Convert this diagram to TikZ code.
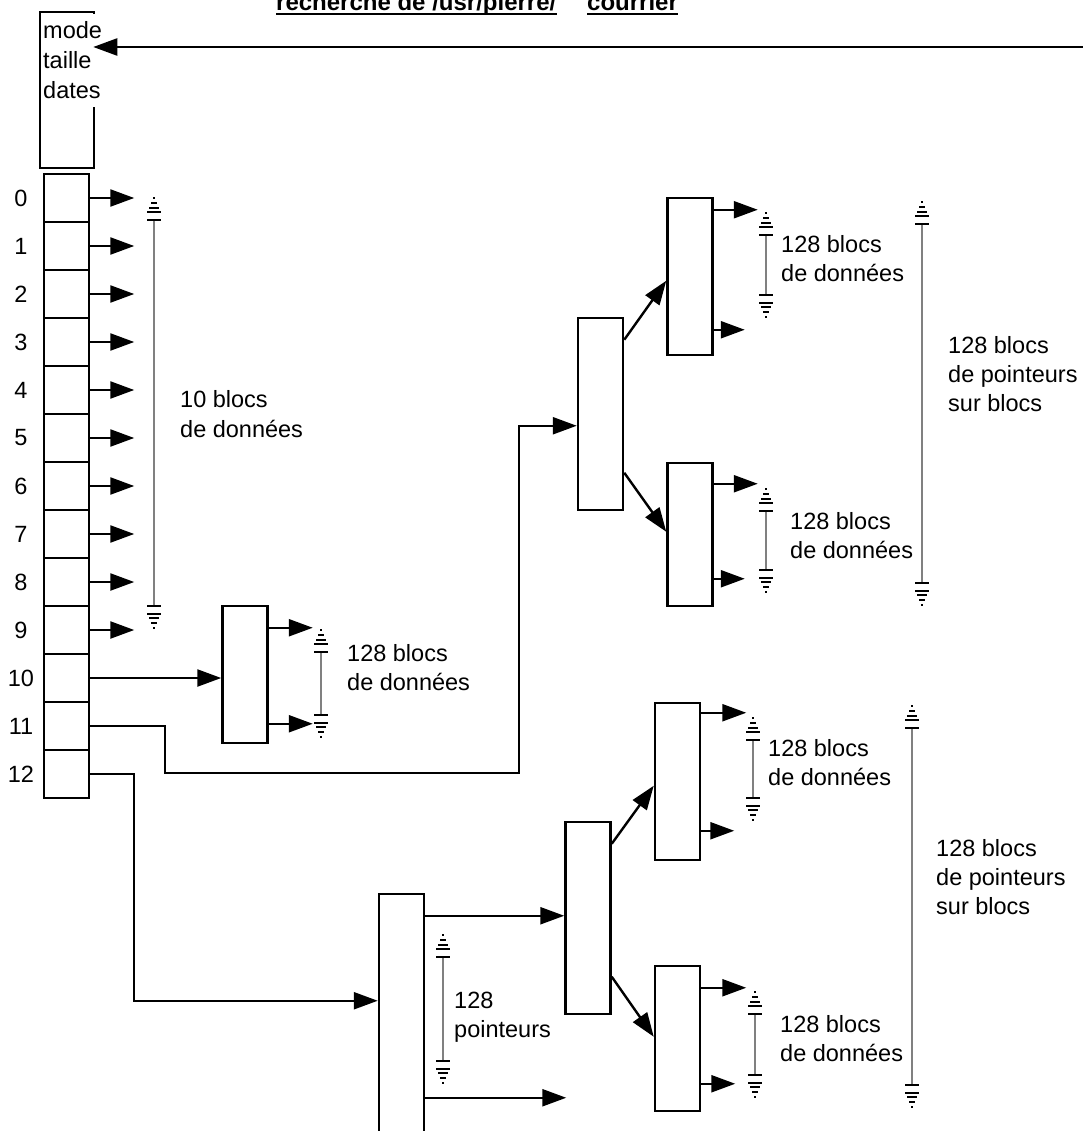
\documentclass[tikz,border=0pt]{standalone}
\usepackage{fontspec}
\setmainfont{Liberation Sans}
\usetikzlibrary{arrows.meta,calc}

\newcommand{\jauge}[3]{%
  \draw[mesure] (#1,#2+22) -- (#1,#3-22);
  \foreach \d/\w/\e in {0/7/1.2,8/7/2.2,12/5/2,17/3/2,22/1/1.5} {
    \draw[line width=\e pt] (#1-\w,#2+22-\d) -- (#1+\w,#2+22-\d);
    \draw[line width=\e pt] (#1-\w,#3-22+\d) -- (#1+\w,#3-22+\d);
  }%
}

\begin{document}
\begin{tikzpicture}[x=1pt, y=-1pt,
  every node/.style={font=\fontsize{23.5}{29}\selectfont},
  boite/.style={draw, line width=2.5pt, minimum width=45pt, inner sep=0pt},
  cellule/.style={boite, minimum height=48pt},
  fleche/.style={line width=2.4pt, -{Triangle[length=24pt,width=17pt]}},
  mesure/.style={line width=2pt, black!50},
  texte/.style={anchor=base west, align=left, inner sep=0pt},
  titre/.style={anchor=base west, inner sep=0pt, font=\fontsize{24}{29}\selectfont\bfseries}]
  \useasboundingbox (0,0) rectangle (1082,1131);

  \node[titre] (t1) at (276,11) {recherche de /usr/pierre/};
  \node[titre] (t2) at (587,11) {courrier};
  \draw[line width=2.5pt] ([yshift=-3pt]t1.base west) -- ([yshift=-3pt]t1.base east);
  \draw[line width=2.5pt] ([yshift=-3pt]t2.base west) -- ([yshift=-3pt]t2.base east);

  \node[boite, minimum width=54pt, minimum height=156pt] (entete) at (67,90) {};
  \node[texte, fill=white, inner xsep=1pt, inner ysep=8pt] (attributs) at (42,99) {mode\\[1pt]taille\\[1pt]dates};
  \coordinate (entree) at (1084,47);
  \draw[fleche] (entree) -- ([xshift=-2pt]entree -| entete.east);

  \foreach \i in {0,...,12} {
    \node[cellule] (c\i) at (66.5,198+48*\i) {};
    \node (n\i) at (21,198+48*\i) {\i};
  }
  \foreach \i in {0,...,9} {
    \coordinate (d\i) at ($(c\i.east)+(44,0)$);
    \draw[fleche] (c\i.east) -- (d\i);
  }

  \node[boite, minimum height=137pt] (b1) at (245,674.5) {};
  \node[boite, minimum height=192pt] (b2) at (600.5,414) {};
  \node[boite, minimum height=157pt] (b3) at (690,276.5) {};
  \node[boite, minimum height=143pt] (b4) at (690,534.5) {};
  \node[boite, minimum height=252pt] (b5) at (401.5,1020) {};
  \node[boite, minimum height=192pt] (b6) at (588,918) {};
  \node[boite, minimum height=157pt] (b7) at (677.5,781.5) {};
  \node[boite, minimum height=145pt] (b8) at (677.5,1038.5) {};

  \draw[fleche] (c10.east) -- (c10.east -| b1.west);
  \coordinate (k11) at ($(b2.north west)+(0,109)$);
  \draw[fleche] (c11.east) -- ++(75,0) -- ++(0,47) -| ($(k11)+(-58,0)$) -- (k11);
  \coordinate (k12) at ($(b5.north west)+(0,108)$);
  \draw[fleche] (c12.east) -- ++(44,0) |- (k12);

  \draw[fleche] ($(b1.north east)+(0,23)$) -- ++(44,0);
  \draw[fleche] ($(b1.north east)+(0,119)$) -- ++(44,0);
  \draw[fleche] ($(b2.north east)+(0,23)$) -- ($(b3.north west)+(0,84)$);
  \draw[fleche] ($(b2.north east)+(0,156)$) -- ($(b4.north west)+(0,70)$);
  \draw[fleche] ($(b3.north east)+(0,13)$) -- ++(44,0);
  \draw[fleche] ($(b3.north east)+(0,133)$) -- ++(31,0);
  \draw[fleche] ($(b4.north east)+(0,22)$) -- ++(44,0);
  \draw[fleche] ($(b4.north east)+(0,117)$) -- ++(31,0);
  \coordinate (k5) at ($(b5.north east)+(0,23)$);
  \draw[fleche] (k5) -- (k5 -| b6.west);
  \draw[fleche] ($(b5.north east)+(0,205)$) -- ++(141,0);
  \draw[fleche] ($(b6.north east)+(0,23)$) -- ($(b7.north west)+(0,84)$);
  \draw[fleche] ($(b6.north east)+(0,156)$) -- ($(b8.north west)+(0,72)$);
  \draw[fleche] ($(b7.north east)+(0,11)$) -- ++(45,0);
  \draw[fleche] ($(b7.north east)+(0,129)$) -- ++(33,0);
  \draw[fleche] ($(b8.north east)+(0,23)$) -- ++(45,0);
  \draw[fleche] ($(b8.north east)+(0,119)$) -- ++(34,0);

  \jauge{154}{198}{628}
  \jauge{321}{630}{737}
  \jauge{766}{213}{317}
  \jauge{766}{489}{592}
  \jauge{922}{202}{605}
  \jauge{443}{935}{1083}
  \jauge{753}{718}{820}
  \jauge{755}{992}{1097}
  \jauge{912}{706}{1107}

  \node[texte] (l1) at (180,437) {10 blocs\\[1pt]de données};
  \node[texte] (l2) at (347,690) {128 blocs\\de données};
  \node[texte] (l3) at (781,282) {128 blocs\\de données};
  \node[texte] (l4) at (790,558) {128 blocs\\de données};
  \node[texte] (l5) at (948,411) {128 blocs\\de pointeurs\\sur blocs};
  \node[texte] (l6) at (454,1037) {128\\pointeurs};
  \node[texte] (l7) at (768,785) {128 blocs\\de données};
  \node[texte] (l8) at (780,1061) {128 blocs\\de données};
  \node[texte] (l9) at (936,914) {128 blocs\\de pointeurs\\sur blocs};
\end{tikzpicture}
\end{document}
